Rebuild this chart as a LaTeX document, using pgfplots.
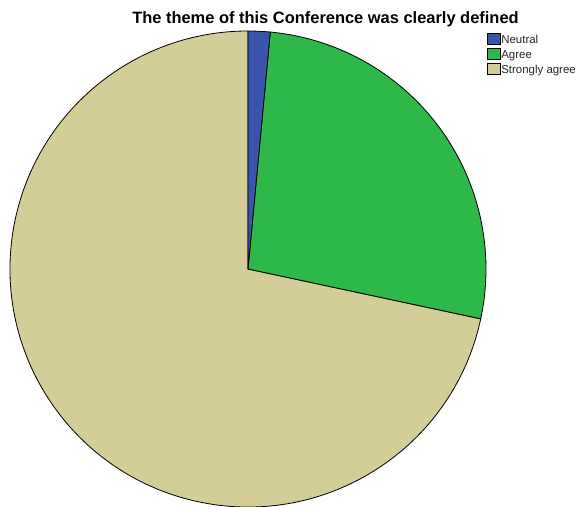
\documentclass[border=0pt]{standalone}
\usepackage{pgfplots}
\pgfplotsset{compat=1.18}
\usepackage{fontspec}
\setmainfont{Liberation Sans}
\definecolor{cNeutral}{RGB}{57,84,172}
\definecolor{cAgree}{RGB}{46,184,73}
\definecolor{cStrong}{RGB}{211,206,152}
% counts per category
\def\nNeutral{1}
\def\nAgree{18}
\def\nStrong{48}
\pgfmathsetmacro\tot{\nNeutral+\nAgree+\nStrong}
\pgfmathsetmacro\aA{90}
\pgfmathsetmacro\aB{\aA-(360/\tot)*\nNeutral}
\pgfmathsetmacro\aC{\aB-(360/\tot)*\nAgree}
\pgfmathsetmacro\aD{\aC-(360/\tot)*\nStrong}
\begin{document}
\begin{tikzpicture}
\begin{axis}[name=ax,x=1bp,y=1bp,xmin=0,xmax=579,ymin=0,ymax=507,hide axis,clip=false,scale only axis,
  legend style={at={(axis cs:487,474)},anchor=north west,draw=none,fill=none,
    font=\fontsize{11.5}{12}\selectfont,inner sep=0pt,row sep=1.8bp,
    legend cell align=left,text=black!85,
    nodes={inner sep=0.6bp,text height=8.2bp,text depth=2.2bp}},
  legend image code/.code={\draw[draw=black,line width=0.5bp,#1] (0bp,-4bp) rectangle (13bp,7bp);},
  ]
\addlegendimage{fill=cNeutral}\addlegendentry{Neutral}
\addlegendimage{fill=cAgree}\addlegendentry{Agree}
\addlegendimage{fill=cStrong}\addlegendentry{Strongly agree}
\filldraw[fill=cStrong,draw=black,line width=0.8bp] (axis cs:248,238) -- ++(\aC:238bp) arc[start angle=\aC,end angle=\aD,radius=238bp] -- cycle;
\filldraw[fill=cAgree,draw=black,line width=0.8bp] (axis cs:248,238) -- ++(\aB:238bp) arc[start angle=\aB,end angle=\aC,radius=238bp] -- cycle;
\filldraw[fill=cNeutral,draw=black,line width=0.8bp] (axis cs:248,238) -- ++(\aA:238bp) arc[start angle=\aA,end angle=\aB,radius=238bp] -- cycle;
\node[font=\bfseries\fontsize{16.5}{18}\selectfont] at (axis cs:325.5,487.5) {The theme of this Conference was clearly defined};
\end{axis}
\pgfresetboundingbox
\path (ax.south west) rectangle (ax.north east);
\end{tikzpicture}
\end{document}
